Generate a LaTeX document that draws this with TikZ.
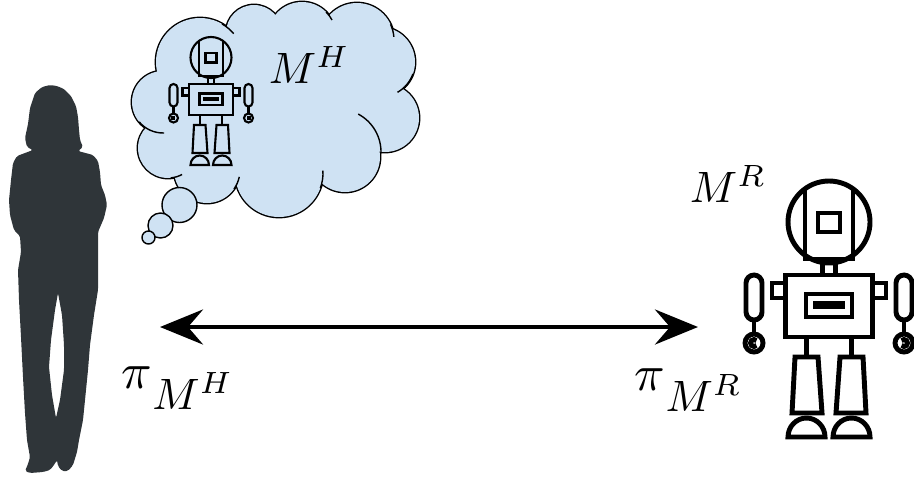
\documentclass[tikz,border=0pt]{standalone}
\usepackage{tikz}
\usetikzlibrary{arrows.meta}
\definecolor{thoughtblue}{HTML}{CFE2F3}
\definecolor{silhouette}{RGB}{47,53,57}
% puffs of the thought cloud: centre x / centre y / radius
\newcommand{\cloudpuffs}{200/62/44, 254/33/28, 302/36/34, 357/40/37, 380/62/35,
  385/118/34, 345/157/35, 279/173/44, 207/170/33, 168/148/30, 163/102/31}
% policy symbol, a bit larger than its subscript
\newcommand{\polsym}{\scalebox{1.15}{$\pi$}}
\tikzset{
  % style for the math labels
  biglabel/.style={inner sep=0pt, scale=2.5},
  % thick double arrow between the two policies
  policy arrow/.style={line width=2.6pt,
    {Stealth[length=8.6mm,width=7mm,inset=3mm]}-{Stealth[length=8.6mm,width=7mm,inset=3mm]}},
  % little bubbles under the thought cloud
  bubble/.style={fill=thoughtblue, draw=black, line width=0.8pt},
  % robot, drawn around the centre of its head
  robot/.pic={
    % head
    \draw (0,0) circle[radius=41];
    \draw (-24,-33.2) -- (-24,37) -- (24,37) -- (24,-33.2);
    \draw (-11,-9) rectangle (11,10);
    % neck and body
    \draw (-6.5,41) rectangle (6.5,53);
    \draw (-43.5,53) rectangle (43.5,115);
    \draw (-23,72) rectangle (23,95);
    \draw (-13.5,81) rectangle (13.5,85);
    % arms and hands
    \foreach \s/\a in {-1/45,1/-135}{
      \draw (\s*43.5,61) rectangle (\s*57,76);
      \draw (\s*75-8,61) -- (\s*75-8,90)
        arc[start angle=180,end angle=0,radius=8] -- (\s*75+8,61)
        arc[start angle=0,end angle=-180,radius=8] -- cycle;
      \draw (\s*75,98) -- (\s*75,112);
      \draw (\s*75,121) circle[radius=9];
      \draw (\s*75,121) ++(\a:3.5) arc[start angle=\a,delta angle=270,radius=3.5];
    }
    % legs and feet
    \foreach \s in {-1,1}{
      \draw (\s*22.5,115) -- (\s*22.5,135);
      \draw (\s*11,135) -- (\s*34,135) -- (\s*37,191) -- (\s*7,191) -- cycle;
      \draw (\s*22.5-18.5,215) arc[start angle=180,end angle=360,x radius=18.5,y radius=19] -- cycle;
    }
  },
}

\begin{document}
\begin{tikzpicture}[x=0.2mm,y=-0.2mm]
  \useasboundingbox (0,0) rectangle (914,478);

  % woman
  \fill[silhouette, even odd rule, rounded corners=1pt]
    (50,85) -- (57,86) -- (64,89) -- (71,96) -- (76,106) -- (78,117)
    -- (79,130) -- (80,140) -- (83,147) -- (78,151) -- (93,155) -- (98,161)
    -- (100,172) -- (101,185) -- (105,195) -- (107,205) -- (104,218)
    -- (98,232) -- (98,250) -- (98,275) -- (98,290) -- (94,315) -- (90,345)
    -- (88,370) -- (85,400) -- (83,420) -- (79,440) -- (77,452) -- (73,465)
    -- (68,471) -- (62,471) -- (58,466) -- (57,460) -- (54,465) -- (50,470)
    -- (43,472) -- (30,473) -- (25,471) -- (28,464) -- (30,457) -- (27,440)
    -- (25,413) -- (23,377) -- (21,337) -- (19,300) -- (18,270) -- (21,252)
    -- (20,236) -- (14,230) -- (10,215) -- (9,200) -- (11,180) -- (13,163)
    -- (17,156) -- (33,150) -- (27,147) -- (25,138) -- (28,124) -- (30,108)
    -- (35,93) -- (42,87) -- cycle
    (58,293) -- (55,310) -- (51,340) -- (49,367) -- (52,395) -- (56,418)
    -- (60,400) -- (64,370) -- (64,345) -- (62,315) -- cycle;

  % thought cloud: outline of all puffs, then fill over the inner halves
  \foreach \cx/\cy/\r in \cloudpuffs
    \draw[line width=1.6pt] (\cx,\cy) circle[radius=\r];
  \foreach \cx/\cy/\r in \cloudpuffs
    \fill[thoughtblue] (\cx,\cy) circle[radius=\r];
  \fill[thoughtblue] (200,62) -- (254,33) -- (302,36) -- (357,40) -- (380,62)
    -- (385,118) -- (345,157) -- (279,173) -- (207,170) -- (168,148)
    -- (163,102) -- cycle;
  % puff edges running on into the cloud
  \begin{scope}[line width=0.8pt]
    \draw (200,62) ++(-60:44) arc[start angle=-60,end angle=-40,radius=44];
    \draw (302,36) ++(-45:34) arc[start angle=-45,end angle=-28,radius=34];
    \draw (357,40) ++(-25:37) arc[start angle=-25,end angle=-5,radius=37];
    \draw (380,62) ++(20:35) arc[start angle=20,end angle=60,radius=35];
    \draw (338,152) ++(2:43) arc[start angle=2,end angle=-62,radius=43];
    \draw (279,173) ++(20:44) arc[start angle=20,end angle=-3,radius=44];
    \draw (207,170) ++(35:33) arc[start angle=35,end angle=12,radius=33];
    \draw (168,148) ++(85:30) arc[start angle=85,end angle=62,radius=30];
    \draw (163,102) ++(140:31) arc[start angle=140,end angle=88,radius=31];
  \end{scope}
  \filldraw[bubble] (179.5,205) circle[radius=17.5];
  \filldraw[bubble] (160.5,225.5) circle[radius=12.5];
  \filldraw[bubble] (148.5,237.5) circle[radius=6.5];
  \pic[line width=1.2pt, scale=0.5] at (211,57.5) {robot};
  \node[biglabel, anchor=base west] (mh) at (268,83) {$M^H$};

  % robot
  \pic[line width=2.8pt] at (829,222) {robot};
  \node[biglabel, anchor=base west] (mr) at (689,202) {$M^R$};

  % policies
  \node[biglabel, anchor=base west] (pih) at (121,388) {$\polsym_{\textstyle M^{H}}$};
  \node[biglabel, anchor=base west] (pir) at (634,390) {$\polsym_{\textstyle M^{R}}$};
  \coordinate (hend) at (160,327);
  \coordinate (rend) at (698,327);
  \draw[policy arrow] (hend) -- (rend);
\end{tikzpicture}
\end{document}
